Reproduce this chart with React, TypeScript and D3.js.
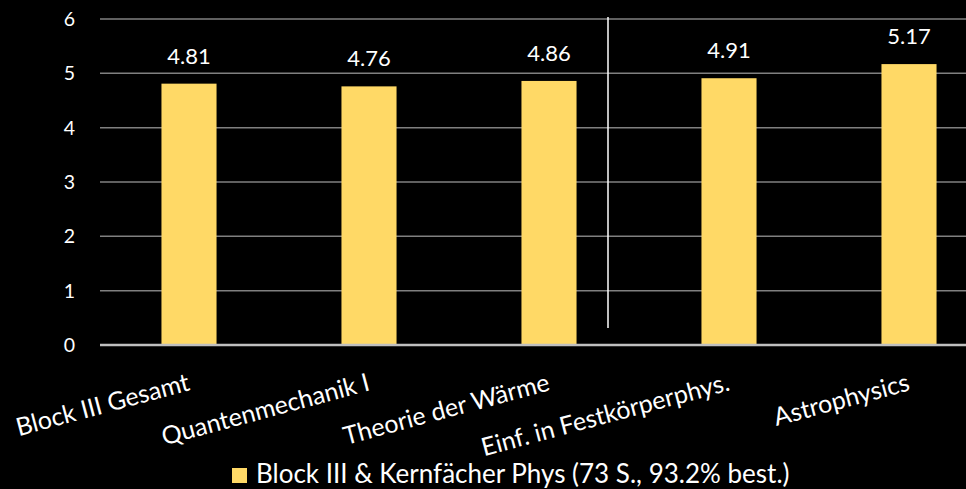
import React from 'react';
import * as d3 from 'd3';

const categories = [
  'Block III Gesamt',
  'Quantenmechanik I',
  'Theorie der Wärme',
  'Einf. in Festkörperphys.',
  'Astrophysics',
];
const values = [4.81, 4.76, 4.86, 4.91, 5.17];
const yTicks = [0, 1, 2, 3, 4, 5, 6];
const seriesName = 'Block III & Kernfächer Phys (73 S., 93.2% best.)';

const width = 966;
const height = 489;
const font = 'Lato, "Noto Sans", sans-serif';
const barColor = '#FFD966';

const App: React.FC = () => {
  const x = d3.scaleBand<string>().domain(categories).range([99, 999]).paddingInner(0.694).paddingOuter(0.347);
  const y = d3.scaleLinear().domain([0, 6]).range([345, 19]);
  const bw = x.bandwidth();
  const center = (c: string) => (x(c) as number) + bw / 2;

  return (
    <svg width={width} height={height} style={{ display: 'block', position: 'absolute', left: 0, top: 0, background: '#000' }}>
      <rect width={width} height={height} fill="#000" />
      {yTicks.filter((t) => t > 0).map((t) => (
        <line key={t} x1={100} x2={width} y1={y(t)} y2={y(t)} stroke="#808080" strokeWidth={1.5} />
      ))}
      {yTicks.map((t) => (
        <text key={'l' + t} x={75} y={y(t) + 7} textAnchor="end" fill="#fff" fontFamily={font} fontSize={19.5}>
          {t}
        </text>
      ))}
      {/* separator */}
      <line x1={608} x2={608} y1={17} y2={328} stroke="#fff" strokeWidth={1.5} />
      {categories.map((c, i) => (
        <g key={c}>
          <rect x={x(c)} y={y(values[i])} width={bw} height={y(0) - y(values[i])} fill={barColor} />
          <text x={center(c)} y={y(values[i]) - 20} textAnchor="middle" fill="#fff" fontFamily={font} fontSize={22}>
            {values[i].toFixed(2)}
          </text>
          <text
            transform={`translate(${center(c) + 2},390) rotate(-15)`}
            textAnchor="end"
            fill="#fff"
            fontFamily={font}
            fontSize={25}
          >
            {c}
          </text>
        </g>
      ))}
      <line x1={100} x2={width} y1={y(0)} y2={y(0)} stroke="#bfbfbf" strokeWidth={2.5} />
      <rect x={232} y={468} width={15} height={15} fill={barColor} />
      <text x={256} y={483} fill="#fff" fontFamily={font} fontSize={26}>
        {seriesName}
      </text>
    </svg>
  );
};

export default App;
